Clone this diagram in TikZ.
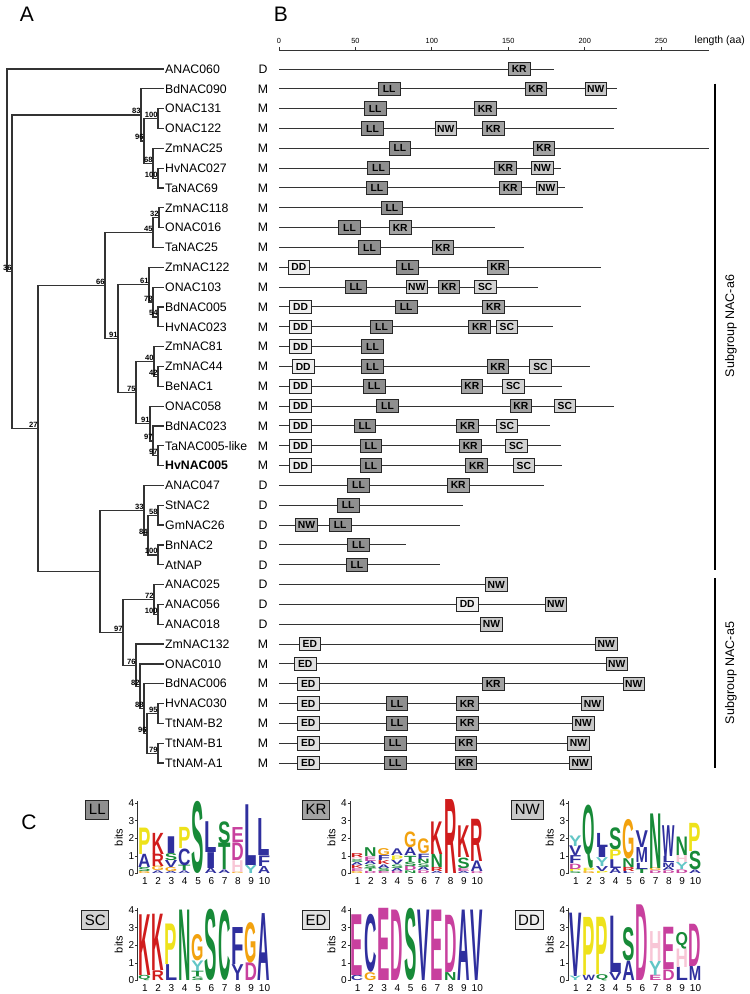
\documentclass[tikz,border=0pt]{standalone}
\usepackage{fontspec}
\setmainfont{Liberation Sans}
\usepackage{graphicx}
\definecolor{cLL}{HTML}{8F8F8F}
\definecolor{cKR}{HTML}{A3A3A3}
\definecolor{cNW}{HTML}{C8C8C8}
\definecolor{cNWd}{HTML}{ABABAB}
\definecolor{cSC}{HTML}{D2D2D2}
\definecolor{cDD}{HTML}{EEEEEE}
\definecolor{cED}{HTML}{E0E0E0}
\definecolor{blu}{HTML}{2F2F9E}
\definecolor{grn}{HTML}{178A38}
\definecolor{mag}{HTML}{C8409E}
\definecolor{red}{HTML}{D01C1C}
\definecolor{yel}{HTML}{EEE21B}
\definecolor{org}{HTML}{F2A20F}
\definecolor{teal}{HTML}{62C6C6}
\definecolor{pnk}{HTML}{F8C6D6}
\definecolor{ln}{HTML}{333333}
\newcount\lgcnt
\newcommand\LG[5]{%
  \global\advance\lgcnt by 1
  \pgfmathsetmacro\lgx{\lox+(#1-1)*13.3+0.9}%
  \pgfmathsetmacro\lgy{\loy-(#2)*17.6}%
  \pgfmathsetmacro\lgh{max((#3-#2)*17.6,0.3)}%
  \node[lgl, name=lg\the\lgcnt] at (\lgx,\lgy) {\resizebox*{12.4pt}{\lgh pt}{\color{#5}#4}};%
}
\newcommand\logoaxis[1]{%
  \draw[lgaxis] (\lox,\loy) -- (\lox,\loy-73);
  \foreach \b in {0,...,4} {
    \draw[lgaxis] (\lox-2.5,\loy-\b*17.6) -- (\lox,\loy-\b*17.6);
    \node[lgnum, anchor=east] (#1t\b) at (\lox-2.5,\loy-\b*17.6) {\b};
  }
  \node[lgbits, rotate=90] (#1bits) at (\lox-18.5,\loy-36) {bits};
  \foreach \c in {1,...,10} {
    \node[lgnum] (#1n\c) at (\lox+0.9+\c*13.3-6.65,\loy+7.5) {\c};
  }
}
\newcommand\leafrow[3]{%
  \pgfmathsetmacro\ry{69+(#1-1)*19.83}%
  \node[leaf] (l#1) at (164,\ry) {#2};
  \node[typ] (t#1) at (263,\ry) {#3};
}
\newcommand\protrow[3]{%
  \pgfmathsetmacro\ry{69+(#1-1)*19.83}%
  \coordinate (ps#1) at (279,\ry);
  \coordinate (pe#1) at (#2,\ry);
  \draw[protline] (ps#1) -- (pe#1);
  \foreach \t/\cx/\cc [count=\k] in {#3} {
    \node[motif, fill=\cc] (m#1-\k) at (\cx,\ry) {\t};
  }
}
\begin{document}
\begin{tikzpicture}[x=1pt,y=-1pt,
  leaf/.style={anchor=west, inner sep=1pt, font=\fontsize{12.3}{14}\selectfont, text height=9pt, text depth=0.5pt},
  typ/.style={inner sep=0pt, font=\fontsize{12.3}{14}\selectfont, text height=9pt, text depth=0.5pt},
  bs/.style={anchor=south east, inner sep=0.5pt, font=\fontsize{7.6}{8}\selectfont\bfseries},
  br/.style={line width=1.2pt, draw=ln},
  protline/.style={line width=1pt, draw=ln},
  motif/.style={draw=black!85, line width=0.9pt, minimum width=21.5pt, minimum height=13.5pt, inner sep=0pt, font=\fontsize{10.3}{11}\selectfont\bfseries},
  panel/.style={font=\fontsize{21}{22}\selectfont, inner sep=0pt},
  grp/.style={line width=1.5pt, draw=black},
  grplab/.style={font=\fontsize{12.5}{14}\selectfont, inner sep=0pt},
  axlab/.style={font=\fontsize{7.4}{8}\selectfont, inner sep=0pt},
  lgl/.style={inner sep=0pt, outer sep=0pt, anchor=south west, font=\bfseries},
  lgaxis/.style={line width=0.7pt, draw=ln},
  lgnum/.style={inner sep=0.5pt, font=\fontsize{10}{11}\selectfont},
  lgbits/.style={inner sep=0pt, font=\fontsize{11}{12}\selectfont},
  lgbox/.style={draw=black!85, line width=0.9pt, inner xsep=3.2pt, inner ysep=0pt, minimum height=19pt, text height=10.8pt, text depth=0pt, font=\fontsize{15}{16}\selectfont}
]
\useasboundingbox (0,0) rectangle (750,994);
\fill[white] (0,0) rectangle (750,994);

% panel letters
\node[panel] (pA) at (27,14) {A};
\node[panel] (pB) at (281,14) {B};
\node[panel] (pC) at (29,822) {C};

% leaves
\leafrow{1}{ANAC060}{D}
\leafrow{2}{BdNAC090}{M}
\leafrow{3}{ONAC131}{M}
\leafrow{4}{ONAC122}{M}
\leafrow{5}{ZmNAC25}{M}
\leafrow{6}{HvNAC027}{M}
\leafrow{7}{TaNAC69}{M}
\leafrow{8}{ZmNAC118}{M}
\leafrow{9}{ONAC016}{M}
\leafrow{10}{TaNAC25}{M}
\leafrow{11}{ZmNAC122}{M}
\leafrow{12}{ONAC103}{M}
\leafrow{13}{BdNAC005}{M}
\leafrow{14}{HvNAC023}{M}
\leafrow{15}{ZmNAC81}{M}
\leafrow{16}{ZmNAC44}{M}
\leafrow{17}{BeNAC1}{M}
\leafrow{18}{ONAC058}{M}
\leafrow{19}{BdNAC023}{M}
\leafrow{20}{TaNAC005-like}{M}
\leafrow{21}{\bfseries HvNAC005}{M}
\leafrow{22}{ANAC047}{D}
\leafrow{23}{StNAC2}{D}
\leafrow{24}{GmNAC26}{D}
\leafrow{25}{BnNAC2}{D}
\leafrow{26}{AtNAP}{D}
\leafrow{27}{ANAC025}{D}
\leafrow{28}{ANAC056}{D}
\leafrow{29}{ANAC018}{D}
\leafrow{30}{ZmNAC132}{M}
\leafrow{31}{ONAC010}{M}
\leafrow{32}{BdNAC006}{M}
\leafrow{33}{HvNAC030}{M}
\leafrow{34}{TtNAM-B2}{M}
\leafrow{35}{TtNAM-B1}{M}
\leafrow{36}{TtNAM-A1}{M}

% internal nodes
\coordinate (R) at (7,170.4);
\coordinate (Na) at (12,271.7);
\coordinate (N83) at (141,114.9);
\coordinate (N96) at (144,140.9);
\coordinate (N100a) at (158,118.6);
\coordinate (N68) at (153,163.2);
\coordinate (N100b) at (158,178.1);
\coordinate (N27) at (38,428.5);
\coordinate (N66) at (105,285.6);
\coordinate (N45) at (153,232.6);
\coordinate (N32) at (159,217.7);
\coordinate (N91a) at (118,338.6);
\coordinate (N61) at (149,284.7);
\coordinate (N78) at (153,302.0);
\coordinate (N54) at (158,316.9);
\coordinate (N75) at (136,392.5);
\coordinate (N40) at (154,361.5);
\coordinate (N42) at (158,376.4);
\coordinate (N91b) at (150,423.5);
\coordinate (N97a) at (153,440.9);
\coordinate (N97b) at (158,455.7);
\coordinate (Nb) at (100,571.3);
\coordinate (N33) at (144,510.2);
\coordinate (N84) at (148,535.0);
\coordinate (N58) at (158,515.2);
\coordinate (N100c) at (158,554.9);
\coordinate (N97) at (123,632.3);
\coordinate (N72) at (154,599.5);
\coordinate (N100d) at (158,614.4);
\coordinate (N76) at (136,665.2);
\coordinate (N82) at (140,686.2);
\coordinate (N88) at (144,708.6);
\coordinate (N96c) at (147,733.4);
\coordinate (N95) at (158,713.5);
\coordinate (N79) at (158,753.2);

% branches
\draw[br] (R) |- (l1.west); \draw[br] (R) |- (Na);
\draw[br] (Na) |- (N83); \draw[br] (Na) |- (N27);
\draw[br] (N83) |- (l2.west); \draw[br] (N83) |- (N96);
\draw[br] (N96) |- (N100a); \draw[br] (N96) |- (N68);
\draw[br] (N100a) |- (l3.west); \draw[br] (N100a) |- (l4.west);
\draw[br] (N68) |- (l5.west); \draw[br] (N68) |- (N100b);
\draw[br] (N100b) |- (l6.west); \draw[br] (N100b) |- (l7.west);
\draw[br] (N27) |- (N66); \draw[br] (N27) |- (Nb);
\draw[br] (N66) |- (N45); \draw[br] (N66) |- (N91a);
\draw[br] (N45) |- (N32); \draw[br] (N45) |- (l10.west);
\draw[br] (N32) |- (l8.west); \draw[br] (N32) |- (l9.west);
\draw[br] (N91a) |- (N61); \draw[br] (N91a) |- (N75);
\draw[br] (N61) |- (l11.west); \draw[br] (N61) |- (N78);
\draw[br] (N78) |- (l12.west); \draw[br] (N78) |- (N54);
\draw[br] (N54) |- (l13.west); \draw[br] (N54) |- (l14.west);
\draw[br] (N75) |- (N40); \draw[br] (N75) |- (N91b);
\draw[br] (N40) |- (l15.west); \draw[br] (N40) |- (N42);
\draw[br] (N42) |- (l16.west); \draw[br] (N42) |- (l17.west);
\draw[br] (N91b) |- (l18.west); \draw[br] (N91b) |- (N97a);
\draw[br] (N97a) |- (l19.west); \draw[br] (N97a) |- (N97b);
\draw[br] (N97b) |- (l20.west); \draw[br] (N97b) |- (l21.west);
\draw[br] (Nb) |- (N33); \draw[br] (Nb) |- (N97);
\draw[br] (N33) |- (l22.west); \draw[br] (N33) |- (N84);
\draw[br] (N84) |- (N58); \draw[br] (N84) |- (N100c);
\draw[br] (N58) |- (l23.west); \draw[br] (N58) |- (l24.west);
\draw[br] (N100c) |- (l25.west); \draw[br] (N100c) |- (l26.west);
\draw[br] (N97) |- (N72); \draw[br] (N97) |- (N76);
\draw[br] (N72) |- (l27.west); \draw[br] (N72) |- (N100d);
\draw[br] (N100d) |- (l28.west); \draw[br] (N100d) |- (l29.west);
\draw[br] (N76) |- (l30.west); \draw[br] (N76) |- (N82);
\draw[br] (N82) |- (l31.west); \draw[br] (N82) |- (N88);
\draw[br] (N88) |- (l32.west); \draw[br] (N88) |- (N96c);
\draw[br] (N96c) |- (N95); \draw[br] (N96c) |- (N79);
\draw[br] (N95) |- (l33.west); \draw[br] (N95) |- (l34.west);
\draw[br] (N79) |- (l35.west); \draw[br] (N79) |- (l36.west);

% bootstrap values
\foreach \n/\v in {Na/36,N83/83,N100a/100,N96/96,N68/68,N100b/100,N32/32,N45/45,N66/66,
  N61/61,N78/78,N54/54,N91a/91,N40/40,N42/42,N75/75,N91b/91,N97a/97,N97b/97,N27/27,
  N33/33,N58/58,N84/84,N100c/100,N72/72,N100d/100,N97/97,N76/76,N82/82,N88/88,N96c/96,N95/95,N79/79}
  { \node[bs] (bs\n) at ([xshift=0.3pt,yshift=0.2pt]\n) {\v}; }

% axis
\coordinate (ax0) at (279,50);
\coordinate (ax1) at (709.3,50);
\draw[line width=1pt, draw=ln] (ax0) -- (ax1);
\foreach \a in {0,50,100,150,200,250} {
  \draw[line width=0.8pt, draw=ln] (279+\a*1.5285,50) -- (279+\a*1.5285,46.5);
  \node[axlab] (ax\a) at (279+\a*1.5285,40.5) {\a};
}
\node[anchor=west, inner sep=0pt, font=\fontsize{10.5}{12}\selectfont] (axl) at (694.5,40.5) {length (aa)};

% proteins
\protrow{1}{554.3}{KR/519.2/cKR}
\protrow{2}{617.3}{LL/389.2/cLL,KR/535.8/cKR,NW/595.8/cNW}
\protrow{3}{617.3}{LL/375.2/cLL,KR/485.2/cKR}
\protrow{4}{614.3}{LL/372.5/cLL,NW/445.8/cNW,KR/493.2/cKR}
\protrow{5}{709.3}{LL/399.8/cLL,KR/543.8/cKR}
\protrow{6}{561}{LL/378.5/cLL,KR/505.5/cKR,NW/542.2/cNW}
\protrow{7}{565.3}{LL/376.8/cLL,KR/510.2/cKR,NW/546.8/cNW}
\protrow{8}{583.3}{LL/391.8/cLL}
\protrow{9}{495}{LL/349.5/cLL,KR/400.2/cKR}
\protrow{10}{524}{LL/369.5/cLL,KR/442.8/cKR}
\protrow{11}{600.7}{DD/298.8/cDD,LL/407.5/cLL,KR/497.8/cKR}
\protrow{12}{537.7}{LL/355.8/cLL,NW/416.8/cNW,KR/448.8/cKR,SC/485.2/cSC}
\protrow{13}{580.7}{DD/300.5/cDD,LL/406.2/cLL,KR/493.5/cKR}
\protrow{14}{552.7}{DD/300.5/cDD,LL/381.5/cLL,KR/479.5/cKR,SC/506.8/cSC}
\protrow{15}{372.5}{DD/300.5/cDD,LL/372.5/cLL}
\protrow{16}{589.7}{DD/303.2/cDD,LL/372.5/cLL,KR/497.8/cKR,SC/540.5/cSC}
\protrow{17}{562.3}{DD/300.5/cDD,LL/374.2/cLL,KR/471.8/cKR,SC/513.2/cSC}
\protrow{18}{614.3}{DD/300.5/cDD,LL/387.5/cLL,KR/520.8/cKR,SC/564.8/cSC}
\protrow{19}{550}{DD/300.5/cDD,LL/364.8/cLL,KR/467.5/cKR,SC/506.8/cSC}
\protrow{20}{560.7}{DD/300.5/cDD,LL/370.8/cLL,KR/470.2/cKR,SC/516.2/cSC}
\protrow{21}{562.3}{DD/300.5/cDD,LL/370.8/cLL,KR/476.5/cKR,SC/523.8/cSC}
\protrow{22}{543.7}{LL/358.5/cLL,KR/458.2/cKR}
\protrow{23}{462.7}{LL/348.2/cLL}
\protrow{24}{460}{NW/306.5/cNWd,LL/340.2/cLL}
\protrow{25}{406}{LL/358.5/cLL}
\protrow{26}{440}{LL/356.8/cLL}
\protrow{27}{496.2}{NW/496.2/cNW}
\protrow{28}{555.8}{DD/467.2/cDD,NW/555.8/cNW}
\protrow{29}{491.5}{NW/491.5/cNW}
\protrow{30}{606.2}{ED/309.8/cED,NW/606.2/cNW}
\protrow{31}{616.8}{ED/305.2/cED,NW/616.8/cNW}
\protrow{32}{633.8}{ED/308.2/cED,KR/493.2/cKR,NW/633.8/cNW}
\protrow{33}{592.5}{ED/308.2/cED,LL/396.8/cLL,KR/467.2/cKR,NW/592.5/cNW}
\protrow{34}{583.2}{ED/308.2/cED,LL/396.8/cLL,KR/467.2/cKR,NW/583.2/cNW}
\protrow{35}{578.5}{ED/308.2/cED,LL/395.2/cLL,KR/465.8/cKR,NW/578.5/cNW}
\protrow{36}{580.2}{ED/308.2/cED,LL/395.2/cLL,KR/465.8/cKR,NW/580.2/cNW}

% subgroups
\coordinate (a6t) at (715,83.5); \coordinate (a6b) at (715,570);
\coordinate (a5t) at (715,578); \coordinate (a5b) at (715,768);
\draw[grp] (a6t) -- (a6b);
\draw[grp] (a5t) -- (a5b);
\node[grplab, rotate=90] (a6l) at (731,326) {Subgroup NAC-a6};
\node[grplab, rotate=90] (a5l) at (731,673) {Subgroup NAC-a5};

% legend boxes
\node[lgbox, fill=cLL, anchor=east] (kLL) at (109.3,809.5) {LL};
\node[lgbox, fill=cKR, anchor=east] (kKR) at (330,809.5) {KR};
\node[lgbox, fill=cNW, anchor=east] (kNW) at (543.5,809.5) {NW};
\node[lgbox, fill=cSC, anchor=east] (kSC) at (109.3,920) {SC};
\node[lgbox, fill=cED, anchor=east] (kED) at (330,920) {ED};
\node[lgbox, fill=cDD, anchor=east] (kDD) at (543.5,920) {DD};

% LL logo
\def\lox{137.3}\def\loy{873.5}
\LG{1}{0}{0.12}{G}{org}\LG{1}{0.12}{0.35}{S}{grn}\LG{1}{0.35}{1.1}{A}{blu}\LG{1}{1.1}{2.6}{P}{yel}
\LG{2}{0}{0.15}{A}{blu}\LG{2}{0.15}{0.4}{G}{org}\LG{2}{0.4}{1.1}{R}{red}\LG{2}{1.1}{2.3}{K}{red}
\LG{3}{0}{0.12}{A}{blu}\LG{3}{0.12}{0.35}{G}{org}\LG{3}{0.35}{0.75}{V}{blu}\LG{3}{0.75}{1.15}{S}{grn}\LG{3}{1.15}{2.1}{I}{blu}
\LG{4}{0}{0.15}{A}{blu}\LG{4}{0.15}{0.45}{T}{grn}\LG{4}{0.45}{1.4}{C}{blu}\LG{4}{1.4}{2.6}{P}{yel}
\LG{5}{0}{4.1}{S}{grn}
\LG{6}{0}{0.3}{A}{blu}\LG{6}{0.3}{1.2}{I}{blu}\LG{6}{1.2}{2.95}{L}{blu}
\LG{7}{0}{0.2}{A}{blu}\LG{7}{0.2}{1.7}{T}{grn}\LG{7}{1.7}{2.95}{S}{grn}
\LG{8}{0}{0.08}{G}{org}\LG{8}{0.08}{0.75}{H}{pnk}\LG{8}{0.75}{1.75}{D}{mag}\LG{8}{1.75}{2.6}{E}{mag}
\LG{9}{0}{0.45}{Y}{teal}\LG{9}{0.45}{3.9}{L}{blu}
\LG{10}{0}{0.4}{A}{blu}\LG{10}{0.4}{1.0}{F}{blu}\LG{10}{1.0}{3.1}{L}{blu}
\logoaxis{LLx}

% SC logo
\def\lox{137.3}\def\loy{980.5}
\LG{1}{0}{0.3}{Q}{grn}\LG{1}{0.3}{3.75}{K}{red}
\LG{2}{0}{0.55}{R}{red}\LG{2}{0.55}{3.75}{K}{red}
\LG{3}{0}{0.9}{L}{blu}\LG{3}{0.9}{3.2}{P}{yel}
\LG{4}{0}{4.0}{N}{grn}
\LG{5}{0}{0.2}{S}{grn}\LG{5}{0.2}{0.5}{T}{grn}\LG{5}{0.5}{1.1}{Y}{teal}\LG{5}{1.1}{2.6}{G}{org}
\LG{6}{0}{4.05}{S}{grn}
\LG{7}{0}{4.0}{C}{grn}
\LG{8}{0}{0.9}{Y}{blu}\LG{8}{0.9}{3.0}{F}{blu}
\LG{9}{0}{1.0}{D}{mag}\LG{9}{1.0}{3.3}{G}{org}
\LG{10}{0}{3.8}{A}{blu}
\logoaxis{SCx}

% KR logo
\def\lox{350}\def\loy{873.5}
\LG{1}{0}{0.12}{G}{org}\LG{1}{0.12}{0.28}{E}{mag}\LG{1}{0.28}{0.45}{K}{red}\LG{1}{0.45}{0.62}{A}{blu}\LG{1}{0.62}{0.78}{S}{grn}\LG{1}{0.78}{0.93}{H}{pnk}\LG{1}{0.93}{1.15}{R}{red}
\LG{2}{0}{0.12}{D}{mag}\LG{2}{0.12}{0.3}{T}{grn}\LG{2}{0.3}{0.5}{S}{grn}\LG{2}{0.5}{0.7}{A}{blu}\LG{2}{0.7}{0.95}{E}{mag}\LG{2}{0.95}{1.45}{N}{grn}
\LG{3}{0}{0.12}{E}{mag}\LG{3}{0.12}{0.3}{S}{grn}\LG{3}{0.3}{0.5}{A}{blu}\LG{3}{0.5}{0.72}{K}{red}\LG{3}{0.72}{1.0}{F}{blu}\LG{3}{1.0}{1.4}{G}{org}
\LG{4}{0}{0.12}{D}{mag}\LG{4}{0.12}{0.3}{A}{blu}\LG{4}{0.3}{0.5}{S}{grn}\LG{4}{0.5}{0.75}{V}{blu}\LG{4}{0.75}{1.0}{P}{yel}\LG{4}{1.0}{1.38}{A}{blu}
\LG{5}{0}{0.15}{N}{grn}\LG{5}{0.15}{0.4}{D}{mag}\LG{5}{0.4}{0.65}{S}{grn}\LG{5}{0.65}{1.0}{T}{grn}\LG{5}{1.0}{1.45}{A}{blu}\LG{5}{1.45}{2.35}{G}{org}
\LG{6}{0}{0.15}{D}{mag}\LG{6}{0.15}{0.35}{A}{blu}\LG{6}{0.35}{0.55}{S}{grn}\LG{6}{0.55}{0.8}{N}{grn}\LG{6}{0.8}{1.1}{F}{blu}\LG{6}{1.1}{1.95}{G}{org}
\LG{7}{0}{0.12}{A}{blu}\LG{7}{0.12}{0.35}{R}{red}\LG{7}{0.35}{1.1}{N}{grn}\LG{7}{1.1}{2.95}{K}{red}
\LG{8}{0}{4.2}{R}{red}
\LG{9}{0}{0.12}{A}{blu}\LG{9}{0.12}{0.3}{E}{mag}\LG{9}{0.3}{0.9}{S}{grn}\LG{9}{0.9}{2.7}{K}{red}
\LG{10}{0}{0.1}{D}{mag}\LG{10}{0.1}{0.7}{A}{blu}\LG{10}{0.7}{3.1}{R}{red}
\logoaxis{KRx}

% ED logo
\def\lox{350}\def\loy{980.5}
\LG{1}{0}{0.3}{C}{blu}\LG{1}{0.3}{3.75}{E}{mag}
\LG{2}{0}{0.45}{G}{org}\LG{2}{0.45}{3.75}{C}{blu}
\LG{3}{0}{4.1}{E}{mag}
\LG{4}{0}{4.0}{D}{mag}
\LG{5}{0}{4.1}{S}{grn}
\LG{6}{0}{4.0}{V}{blu}
\LG{7}{0}{4.0}{E}{mag}
\LG{8}{0}{0.45}{N}{grn}\LG{8}{0.45}{3.7}{D}{mag}
\LG{9}{0}{4.0}{A}{blu}
\LG{10}{0}{4.0}{V}{blu}
\logoaxis{EDx}

% NW logo
\def\lox{568.3}\def\loy{873.5}
\LG{1}{0}{0.1}{S}{grn}\LG{1}{0.1}{0.25}{P}{yel}\LG{1}{0.25}{0.55}{D}{mag}\LG{1}{0.55}{1.0}{F}{blu}\LG{1}{1.0}{1.55}{V}{blu}\LG{1}{1.55}{2.15}{Y}{teal}
\LG{2}{0}{0.12}{G}{org}\LG{2}{0.12}{0.3}{P}{yel}\LG{2}{0.3}{3.9}{Q}{grn}
\LG{3}{0}{0.12}{P}{yel}\LG{3}{0.12}{0.4}{V}{blu}\LG{3}{0.4}{0.9}{Y}{teal}\LG{3}{0.9}{1.5}{I}{blu}\LG{3}{1.5}{2.3}{L}{blu}
\LG{4}{0}{0.3}{A}{blu}\LG{4}{0.3}{0.8}{L}{blu}\LG{4}{0.8}{1.35}{P}{yel}\LG{4}{1.35}{2.6}{S}{grn}
\LG{5}{0}{0.12}{L}{blu}\LG{5}{0.12}{0.35}{R}{red}\LG{5}{0.35}{0.85}{N}{grn}\LG{5}{0.85}{3.1}{G}{org}
\LG{6}{0}{0.25}{T}{grn}\LG{6}{0.25}{0.6}{L}{blu}\LG{6}{0.6}{1.45}{M}{blu}\LG{6}{1.45}{2.4}{V}{blu}
\LG{7}{0}{0.15}{D}{mag}\LG{7}{0.15}{0.3}{G}{org}\LG{7}{0.3}{3.4}{N}{grn}
\LG{8}{0}{0.15}{D}{mag}\LG{8}{0.15}{0.35}{A}{blu}\LG{8}{0.35}{0.6}{M}{blu}\LG{8}{0.6}{0.95}{L}{blu}\LG{8}{0.95}{2.7}{W}{blu}
\LG{9}{0}{0.2}{D}{mag}\LG{9}{0.2}{0.6}{Y}{teal}\LG{9}{0.6}{1.0}{H}{pnk}\LG{9}{1.0}{2.05}{N}{grn}
\LG{10}{0}{0.2}{A}{blu}\LG{10}{0.2}{1.25}{S}{grn}\LG{10}{1.25}{2.85}{P}{yel}
\logoaxis{NWx}

% DD logo
\def\lox{568.3}\def\loy{980.5}
\LG{1}{0}{0.25}{Y}{teal}\LG{1}{0.25}{3.85}{V}{blu}
\LG{2}{0}{0.3}{W}{blu}\LG{2}{0.3}{3.6}{P}{yel}
\LG{3}{0}{0.35}{Q}{grn}\LG{3}{0.35}{3.6}{P}{yel}
\LG{4}{0}{0.45}{V}{blu}\LG{4}{0.45}{3.65}{L}{blu}
\LG{5}{0}{1.1}{A}{blu}\LG{5}{1.1}{3.0}{S}{grn}
\LG{6}{0}{4.3}{D}{mag}
\LG{7}{0}{0.3}{E}{mag}\LG{7}{0.3}{1.1}{Y}{teal}\LG{7}{1.1}{2.8}{H}{pnk}
\LG{8}{0}{0.6}{D}{mag}\LG{8}{0.6}{3.0}{E}{mag}
\LG{9}{0}{0.75}{L}{blu}\LG{9}{0.75}{1.8}{H}{pnk}\LG{9}{1.8}{2.75}{Q}{grn}
\LG{10}{0}{0.8}{M}{blu}\LG{10}{0.8}{3.2}{D}{mag}
\logoaxis{DDx}
\end{tikzpicture}
\end{document}
